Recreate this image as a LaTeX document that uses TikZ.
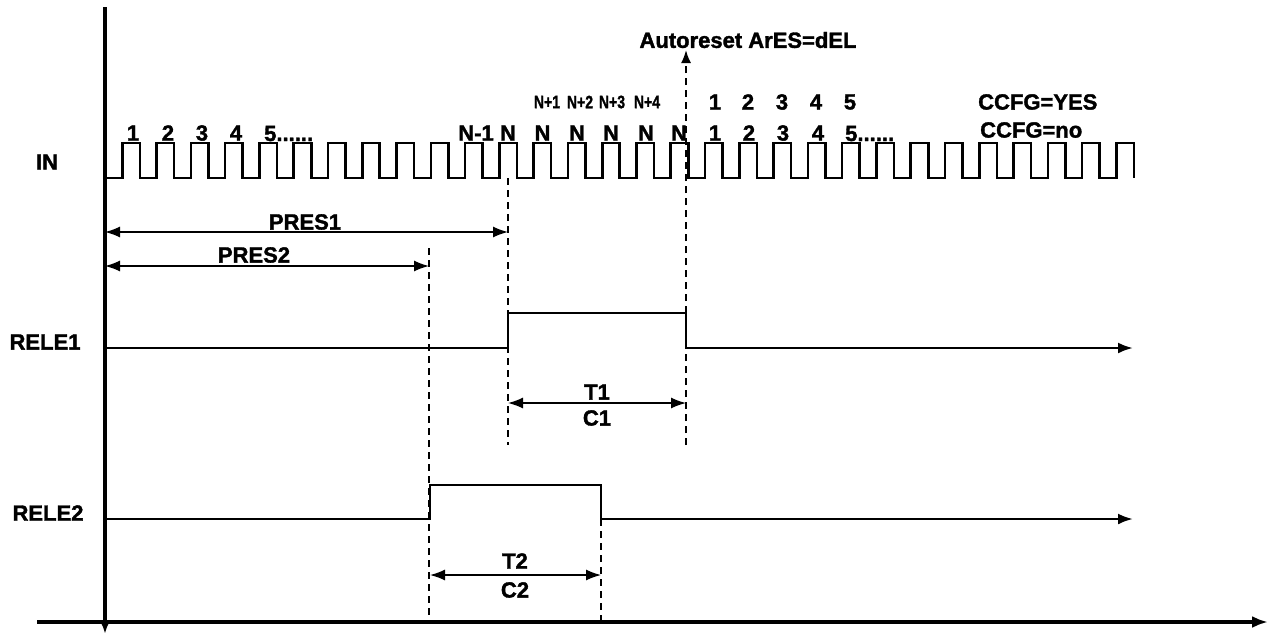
\documentclass[tikz,border=0pt]{standalone}
\usepackage{fontspec}
\setmainfont{Liberation Sans}
\newfontfamily\heavy{Liberation Sans}[BoldFeatures={FakeBold=1.6}]
\usetikzlibrary{arrows.meta}
\begin{document}
\begin{tikzpicture}[x=1pt,y=-1pt,
  lbl/.style={font=\heavy\fontsize{22}{22}\selectfont\bfseries, inner sep=0pt},
  small/.style={font=\heavy\fontsize{18}{18}\selectfont\bfseries, inner sep=0pt},
  wave/.style={line width=2.6pt, line join=miter},
  axisline/.style={line width=3.2pt},
  guide/.style={line width=1.8pt, dash pattern=on 7pt off 5pt},
  dim/.style={line width=1.4pt, {Latex[length=15pt,width=11pt]}-{Latex[length=15pt,width=11pt]}},
  tip/.style={-{Latex[length=15pt,width=11pt]}},
]
\useasboundingbox (0,0) rectangle (1271,632);

% axes
\coordinate (vtop) at (105,7);
\coordinate (vbot) at (105,634);
\coordinate (hleft) at (37,622);
\coordinate (hright) at (1268,622);
\draw[axisline,-{Latex[length=12pt,width=9pt]}] (vtop) -- (vbot);
\draw[axisline,-{Latex[length=16pt,width=12pt]}] (hleft) -- (hright);

% IN pulse train
\draw[wave] (105,178) foreach \k in {0,...,29} { -- ({122.3+34.28*\k},178) -- ++(0,-35) -- ++(17.5,0) -- ++(0,35) };

% relay waveforms
\coordinate (r1s) at (105,348);
\coordinate (r1e) at (1133,348);
\draw[wave,tip] (r1s) -- (508,348) -- (508,313) -- (686,313) -- (686,348) -- (r1e);
\coordinate (r2s) at (105,519);
\coordinate (r2e) at (1133,519);
\draw[wave,tip] (r2s) -- (430,519) -- (430,485) -- (601,485) -- (601,519) -- (r2e);

% dashed guides
\coordinate (gNa) at (508,178);
\coordinate (gNb) at (508,445);
\coordinate (gAa) at (686,445);
\coordinate (gAb) at (686,50);
\coordinate (gPa) at (429,248);
\coordinate (gPb) at (429,622);
\coordinate (gTa) at (601,519);
\coordinate (gTb) at (601,622);
\draw[guide] (gNa) -- (gNb);
\draw[guide,-{Latex[length=13pt,width=10pt]}] (gAa) -- (gAb);
\draw[guide] (gPa) -- (gPb);
\draw[guide] (gTa) -- (gTb);

% dimension arrows
\coordinate (p1a) at (105,232); \coordinate (p1b) at (508,232);
\coordinate (p2a) at (105,266); \coordinate (p2b) at (429,266);
\coordinate (t1a) at (508,403); \coordinate (t1b) at (686,403);
\coordinate (t2a) at (430,575); \coordinate (t2b) at (601,575);
\draw[dim] (p1a) -- (p1b);
\draw[dim] (p2a) -- (p2b);
\draw[dim] (t1a) -- (t1b);
\draw[dim] (t2a) -- (t2b);

% labels
\node[lbl] (in) at (47,162) {IN};
\node[lbl] (rele1) at (45,342) {RELE1};
\node[lbl] (rele2) at (48,513) {RELE2};
\node[lbl] (pres1) at (305,222) {PRES1};
\node[lbl] (pres2) at (254,255) {PRES2};
\node[lbl] (t1) at (597,392) {T1};
\node[lbl] (c1) at (597,418) {C1};
\node[lbl] (t2) at (515,561) {T2};
\node[lbl] (c2) at (515,590) {C2};
\node[lbl] (ares) at (748,40) {Autoreset ArES=dEL};
\node[lbl,anchor=west] (yes) at (978,102) {CCFG=YES};
\node[lbl,anchor=west] (no) at (980,130) {CCFG=no};

% pulse numbers
\node[lbl] (a1) at (133,133) {1};
\node[lbl] (a2) at (168,133) {2};
\node[lbl] (a3) at (202,133) {3};
\node[lbl] (a4) at (236,133) {4};
\node[lbl,anchor=base west] (a5) at (264,141) {5......};
\node[lbl] (nm1) at (476,133) {N-1};
\node[lbl] (n0) at (508,133) {N};
\node[lbl] (n1) at (542.5,133) {N};
\node[lbl] (n2) at (577,133) {N};
\node[lbl] (n3) at (611,133) {N};
\node[lbl] (n4) at (646,133) {N};
\node[lbl] (n5) at (679,133) {N};
\node[lbl] (b1) at (715,133) {1};
\node[lbl] (b2) at (749,133) {2};
\node[lbl] (b3) at (783,133) {3};
\node[lbl] (b4) at (818,133) {4};
\node[lbl,anchor=base west] (b5) at (845,141) {5......};
\node[small] (np1) at (547,102) {\scalebox{0.78}[1]{N+1}};
\node[small] (np2) at (580,102) {\scalebox{0.78}[1]{N+2}};
\node[small] (np3) at (612,102) {\scalebox{0.78}[1]{N+3}};
\node[small] (np4) at (647,102) {\scalebox{0.78}[1]{N+4}};
\node[lbl] (c1u) at (715,102) {1};
\node[lbl] (c2u) at (748,102) {2};
\node[lbl] (c3u) at (782,102) {3};
\node[lbl] (c4u) at (816,102) {4};
\node[lbl] (c5u) at (850,102) {5};
\end{tikzpicture}
\end{document}
